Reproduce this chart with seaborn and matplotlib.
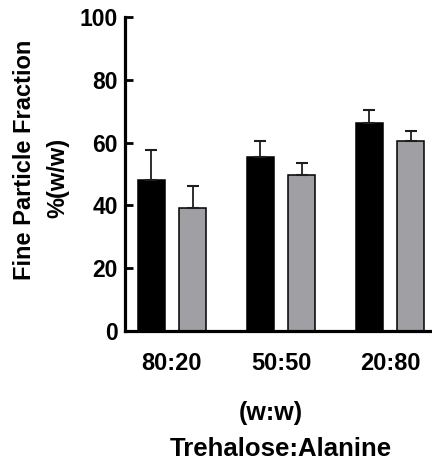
import matplotlib
matplotlib.use("Agg")
import matplotlib.pyplot as plt
import seaborn as sns
import pandas as pd

# Trehalose:Alanine mass ratios on the x axis
ratios = ["80:20", "50:50", "20:80"]
series = ["Group A", "Group B"]

# Fine particle fraction (% w/w), mean and upper error for each group
fpf_a = [48.2, 55.4, 66.3]
err_a = [9.5, 5.0, 4.1]
fpf_b = [39.2, 49.7, 60.4]
err_b = [7.1, 3.7, 3.2]

yticks = [0, 20, 40, 60, 80, 100]

df = pd.DataFrame({
    "ratio": ratios * 2,
    "series": [series[0]] * 3 + [series[1]] * 3,
    "fpf": fpf_a + fpf_b,
})

sns.set_style("ticks")
plt.rcParams["font.family"] = ["Liberation Sans", "DejaVu Sans"]
plt.rcParams["font.weight"] = "bold"
for key in ["text.color", "axes.labelcolor", "xtick.color", "ytick.color",
            "axes.edgecolor"]:
    plt.rcParams[key] = "black"

fig = plt.figure(figsize=(4.32, 4.66), dpi=100)
ax = fig.add_axes([125 / 432, 135 / 466, 1 - 125 / 432, (331 - 17) / 466])

sns.barplot(data=df, x="ratio", y="fpf", hue="series", order=ratios,
            hue_order=series, palette=["#000000", "#9f9ea5"],
            width=0.76, gap=0.35, edgecolor="black", linewidth=1.1,
            errorbar=None, legend=False, ax=ax)

# upper-only error bars centred on each bar
for cont, errs in zip(ax.containers, [err_a, err_b]):
    for bar, e in zip(cont, errs):
        xc = bar.get_x() + bar.get_width() / 2
        h = bar.get_height()
        ax.errorbar([xc], [h], yerr=[[0], [e]], fmt="none", ecolor="#1e1e1e",
                    elinewidth=1.3, capsize=4, capthick=1.5, zorder=1)

ax.set_ylim(0, 100)
ax.set_xlim(-0.43, 2.385)
ax.set_yticks(yticks)
ax.set_yticklabels([str(v) for v in yticks])

for side in ["left", "bottom"]:
    ax.spines[side].set_linewidth(2.3)
    ax.spines[side].set_color("black")
sns.despine(ax=ax)

ax.tick_params(axis="y", direction="in", length=6, width=2.0, pad=5,
               labelsize=16.5, colors="black")
ax.tick_params(axis="x", length=0, pad=15, labelsize=17, colors="black")
for lab in ax.get_xticklabels() + ax.get_yticklabels():
    lab.set_fontweight("bold")

ax.set_xlabel("")
ax.set_ylabel("")

fig.text(25 / 432, 1 - 160 / 466, "Fine Particle Fraction", rotation=90,
         ha="center", va="center", fontsize=17, fontweight="bold")
fig.text(58 / 432, 1 - 178 / 466, "%(w/w)", rotation=90,
         ha="center", va="center", fontsize=17, fontweight="bold")
fig.text(271 / 432, 1 - 413 / 466, "(w:w)", ha="center", va="center",
         fontsize=18, fontweight="bold")
fig.text(281 / 432, 1 - 449 / 466, "Trehalose:Alanine", ha="center",
         va="center", fontsize=18.5, fontweight="bold")

fig.savefig("out.png", dpi=100)
